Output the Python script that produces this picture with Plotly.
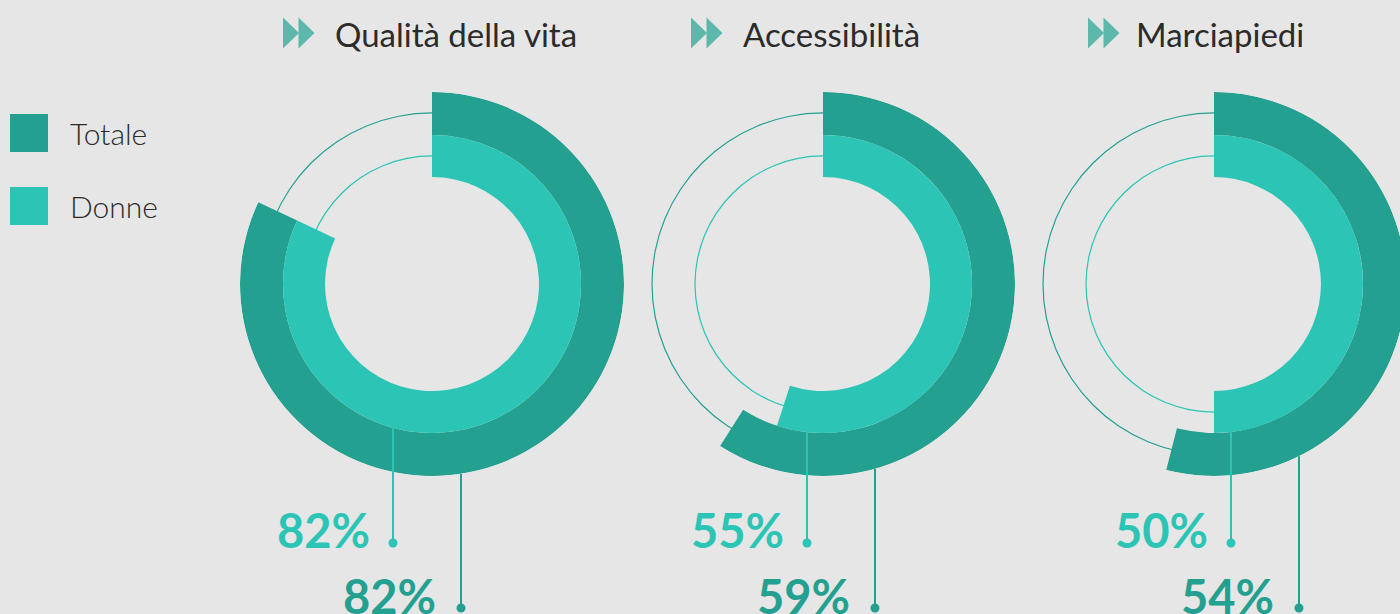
import math
import plotly.graph_objects as go

# ---------------- data ----------------
categories = ["Qualità della vita", "Accessibilità", "Marciapiedi"]
totale = [82, 59, 54]
donne = [82, 55, 50]
series_names = ["Totale", "Donne"]

# ---------------- style / layout ----------------
VIEW_W = 1400          # visible window width
W, H = 1412, 614       # figure slightly wider: the last ring runs off the right edge
BG = "#e6e6e6"
C_TOT = "#24a090"
C_DON = "#2cc5b5"
C_ICON = "#5bb8aa"
C_TXT = "#2b2b2b"

CX = [432, 823, 1214]
CY = 284
R_OUT, R_MID, R_IN = 192, 149, 107
TRACK_OUT, TRACK_IN = 171, 128
TRACK_W = 1.2

# leader lines (x of Donne line, x of Totale line) and dot heights
LX_DON = [393, 807, 1231]
LX_TOT = [461, 875, 1299]
DOT_Y_DON, DOT_Y_TOT = 543, 608
DOT_R = 4.5
LABEL_Y_DON, LABEL_Y_TOT = 530, 596
LABEL_GAP_DON, LABEL_GAP_TOT = 21, 23

# titles
TITLE_ICON_X = [283, 691, 1088]
TITLE_TEXT_X = [333, 741, 1134]
TITLE_Y = 34

FONT_NUM = "Lato"
FONT_TXT = "Lato"


def px(x):
    return x / W


def py(y):
    return 1 - y / H


fig = go.Figure()
layout_polars = {}

for i, cat in enumerate(categories):
    cx = CX[i]
    rx = min(R_OUT, W - cx, cx)
    x0 = max(0.0, (cx - rx) / W)
    x1 = min(1.0, (cx + rx) / W)
    y0 = (H - CY - R_OUT) / H
    y1 = (H - CY + R_OUT) / H
    key = "polar" if i == 0 else f"polar{i + 1}"
    layout_polars[key] = dict(
        domain=dict(x=[x0, x1], y=[y0, y1]),
        bgcolor="rgba(0,0,0,0)",
        barmode="overlay",
        radialaxis=dict(visible=False, range=[0, rx], showgrid=False),
        angularaxis=dict(visible=False, rotation=90, direction="clockwise",
                         showgrid=False),
    )
    sub = key
    # thin tracks
    fig.add_trace(go.Barpolar(r=[TRACK_W], base=[TRACK_OUT - TRACK_W / 2], theta=[180],
                              width=[360], marker=dict(color=C_TOT, line=dict(width=0)),
                              subplot=sub, hoverinfo="skip", showlegend=False))
    fig.add_trace(go.Barpolar(r=[TRACK_W], base=[TRACK_IN - TRACK_W / 2], theta=[180],
                              width=[360], marker=dict(color=C_DON, line=dict(width=0)),
                              subplot=sub, hoverinfo="skip", showlegend=False))
    # value arcs
    vt, vd = totale[i], donne[i]
    fig.add_trace(go.Barpolar(r=[R_OUT - R_MID], base=[R_MID], theta=[vt * 1.8],
                              width=[vt * 3.6], name=series_names[0],
                              marker=dict(color=C_TOT, line=dict(width=0)),
                              subplot=sub, hoverinfo="skip", showlegend=False))
    fig.add_trace(go.Barpolar(r=[R_MID - R_IN], base=[R_IN], theta=[vd * 1.8],
                              width=[vd * 3.6], name=series_names[1],
                              marker=dict(color=C_DON, line=dict(width=0)),
                              subplot=sub, hoverinfo="skip", showlegend=False))

shapes = []
annotations = []

for i, cat in enumerate(categories):
    cx = CX[i]
    # leader lines
    for lx, rr, dot_y, col, val, ly, gap in [
        (LX_DON[i], R_MID, DOT_Y_DON, C_DON, donne[i], LABEL_Y_DON, LABEL_GAP_DON),
        (LX_TOT[i], R_OUT, DOT_Y_TOT, C_TOT, totale[i], LABEL_Y_TOT, LABEL_GAP_TOT),
    ]:
        dx = lx - cx
        y_start = CY + math.sqrt(rr * rr - dx * dx)
        shapes.append(dict(type="line", xref="paper", yref="paper", layer="above",
                           x0=px(lx), x1=px(lx), y0=py(y_start), y1=py(dot_y),
                           line=dict(color=col, width=2)))
        shapes.append(dict(type="circle", xref="paper", yref="paper", layer="above",
                           x0=px(lx - DOT_R), x1=px(lx + DOT_R),
                           y0=py(dot_y - DOT_R), y1=py(dot_y + DOT_R),
                           fillcolor=col, line=dict(width=0)))
        annotations.append(dict(text=f"{val}%", xref="paper", yref="paper",
                                x=px(lx - gap), y=py(ly), xanchor="right", yanchor="middle",
                                showarrow=False,
                                font=dict(family=FONT_NUM, size=47, color=col, weight=700)))
    # title icon (two triangles)
    ix = TITLE_ICON_X[i]
    for k in range(2):
        a = ix + k * 15.5
        path = (f"M {px(a)},{py(17.5)} L {px(a)},{py(48.5)} "
                f"L {px(a + 16)},{py(33)} Z")
        shapes.append(dict(type="path", xref="paper", yref="paper", path=path,
                           fillcolor=C_ICON, line=dict(width=0), layer="above"))
    annotations.append(dict(text=cat, xref="paper", yref="paper",
                            x=px(TITLE_TEXT_X[i]), y=py(TITLE_Y),
                            xanchor="left", yanchor="middle", showarrow=False,
                            font=dict(family=FONT_TXT, size=33, color=C_TXT)))

# legend
LEG_Y = [133, 206]
for name, col, ly in zip(series_names, [C_TOT, C_DON], LEG_Y):
    shapes.append(dict(type="rect", xref="paper", yref="paper", layer="above",
                       x0=px(10), x1=px(48), y0=py(ly - 19), y1=py(ly + 19),
                       fillcolor=col, line=dict(width=0)))
    annotations.append(dict(text=name, xref="paper", yref="paper",
                            x=px(68), y=py(ly), xanchor="left", yanchor="middle",
                            showarrow=False,
                            font=dict(family=FONT_TXT, size=30, color=C_TXT, weight=300)))

fig.update_layout(
    width=W, height=H,
    margin=dict(l=0, r=0, t=0, b=0),
    paper_bgcolor=BG, plot_bgcolor=BG,
    showlegend=False,
    hovermode=False,
    shapes=shapes,
    annotations=annotations,
    **layout_polars,
)

fig.write_html(
    "out.html",
    config={"displayModeBar": False, "staticPlot": True},
    post_script="document.body.style.margin='0';document.body.style.overflow='hidden';",
)
